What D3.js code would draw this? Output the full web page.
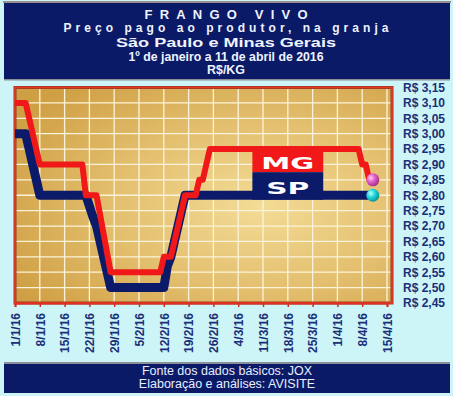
<!DOCTYPE html>
<html lang="pt">
<head>
<meta charset="UTF-8">
<title>Frango vivo</title>
<script src="https://d3js.org/d3.v7.min.js"></script>
<style>
  body { margin: 0; background: #fff; }
  svg { display: block; font-family: "Liberation Sans", Arial, sans-serif; }
</style>
</head>
<body>
<script>
// price per kg
var mgDates  = ["2016-01-01","2016-01-04","2016-01-05","2016-01-06","2016-01-07","2016-01-08","2016-01-20","2016-01-21","2016-01-24","2016-01-28","2016-02-11","2016-02-12","2016-02-14","2016-02-18","2016-02-21","2016-02-22","2016-02-23","2016-02-25","2016-04-07","2016-04-08","2016-04-09","2016-04-10","2016-04-11"];
var mgValues = [3.10, 3.10, 3.05, 3.00, 2.95, 2.90, 2.90, 2.80, 2.80, 2.55, 2.55, 2.60, 2.60, 2.80, 2.80, 2.85, 2.85, 2.95, 2.95, 2.90, 2.90, 2.85, 2.85];

var spDates  = ["2016-01-01","2016-01-04","2016-01-05","2016-01-06","2016-01-07","2016-01-08","2016-01-21","2016-01-23","2016-01-24","2016-01-28","2016-02-12","2016-02-13","2016-02-14","2016-02-18","2016-04-11"];
var spValues = [3.00, 3.00, 2.95, 2.90, 2.85, 2.80, 2.80, 2.73, 2.70, 2.50, 2.50, 2.57, 2.60, 2.80, 2.80];

var xTicks = ["2016-01-01","2016-01-08","2016-01-15","2016-01-22","2016-01-29","2016-02-05","2016-02-12","2016-02-19","2016-02-26","2016-03-04","2016-03-11","2016-03-18","2016-03-25","2016-04-01","2016-04-08","2016-04-15"];
var yTicks = [2.45, 2.50, 2.55, 2.60, 2.65, 2.70, 2.75, 2.80, 2.85, 2.90, 2.95, 3.00, 3.05, 3.10, 3.15];

var W = 455, H = 399;
var parse = d3.timeParse("%Y-%m-%d");
var fmtX = function(d){ return d.getDate() + "/" + (d.getMonth()+1) + "/16"; };
var fmtY = function(v){ return "R$ " + v.toFixed(2).replace(".", ","); };

var mg = mgDates.map(function(d, i){ return {date: parse(d), v: mgValues[i]}; });
var sp = spDates.map(function(d, i){ return {date: parse(d), v: spValues[i]}; });

var x = d3.scaleTime().domain([parse(xTicks[0]), parse(xTicks[xTicks.length-1])]).range([15, 387]);
var y = d3.scaleLinear().domain([2.45, 3.15]).range([303, 87.5]);
var plotL = 15, plotR = 392, plotT = 87.5, plotB = 303;

var svg = d3.select("body").append("svg").attr("width", W).attr("height", H);
var defs = svg.append("defs");

var bg = defs.append("radialGradient").attr("id", "gold").attr("cx", "65%").attr("cy", "55%").attr("r", "75%");
bg.append("stop").attr("offset", "0%").attr("stop-color", "#f3dc96");
bg.append("stop").attr("offset", "50%").attr("stop-color", "#e4c070");
bg.append("stop").attr("offset", "100%").attr("stop-color", "#cf9f44");

var pink = defs.append("radialGradient").attr("id", "pink").attr("cx", "35%").attr("cy", "35%").attr("r", "70%");
pink.append("stop").attr("offset", "0%").attr("stop-color", "#ffd0f0");
pink.append("stop").attr("offset", "45%").attr("stop-color", "#e060c8");
pink.append("stop").attr("offset", "100%").attr("stop-color", "#a02a88");

var teal = defs.append("radialGradient").attr("id", "teal").attr("cx", "35%").attr("cy", "35%").attr("r", "70%");
teal.append("stop").attr("offset", "0%").attr("stop-color", "#c0ffff");
teal.append("stop").attr("offset", "45%").attr("stop-color", "#20d8d8");
teal.append("stop").attr("offset", "100%").attr("stop-color", "#0a9090");

// background panels
svg.append("rect").attr("x", 0).attr("y", 0).attr("width", 453).attr("height", 396).attr("fill", "#cdf5f8");
svg.append("rect").attr("x", 3).attr("y", 1).attr("width", 448).attr("height", 2).attr("fill", "#9a8f8a");
svg.append("rect").attr("x", 4).attr("y", 3).attr("width", 446).attr("height", 76).attr("fill", "#0b1a66");
svg.append("rect").attr("x", 4).attr("y", 79).attr("width", 446).attr("height", 1.5).attr("fill", "#8a8f9a");
svg.append("rect").attr("x", 4).attr("y", 362).attr("width", 446).attr("height", 2).attr("fill", "#8a8f9a");
svg.append("rect").attr("x", 4).attr("y", 364).attr("width", 446).attr("height", 29).attr("fill", "#0b1a66");

// header
var head = [
  {t: "FRANGO VIVO", y: 19, s: 13, len: 163, adj: "spacing"},
  {t: "Preço pago ao produtor, na granja", y: 32, s: 12, len: 325, adj: "spacing"},
  {t: "São Paulo e Minas Gerais", y: 47, s: 13.5, len: 220, adj: "spacingAndGlyphs"},
  {t: "1º de janeiro a 11 de abril de 2016", y: 60.5, s: 12, len: 195, adj: "spacingAndGlyphs"},
  {t: "R$/KG", y: 74, s: 12, len: 38, adj: "spacingAndGlyphs"}
];
svg.selectAll("text.head").data(head).enter().append("text")
  .attr("class", "head")
  .attr("x", 226).attr("y", function(d){ return d.y; })
  .attr("text-anchor", "middle")
  .attr("font-size", function(d){ return d.s; })
  .attr("font-weight", "bold")
  .attr("fill", "#eef3ff")
  .attr("textLength", function(d){ return d.len; })
  .attr("lengthAdjust", function(d){ return d.adj; })
  .text(function(d){ return d.t; });

// footer
svg.selectAll("text.foot").data(["Fonte dos dados básicos: JOX", "Elaboração e análises: AVISITE"]).enter().append("text")
  .attr("class", "foot")
  .attr("x", 227).attr("y", function(d, i){ return 375 + i*13; })
  .attr("text-anchor", "middle")
  .attr("font-size", 12.5)
  .attr("fill", "#e8eeff")
  .text(function(d){ return d; });

// plot area
svg.append("rect").attr("x", plotL).attr("y", plotT).attr("width", plotR - plotL).attr("height", plotB - plotT).attr("fill", "url(#gold)");

svg.append("g").selectAll("line").data(yTicks.slice(1, -1)).enter().append("line")
  .attr("x1", plotL).attr("x2", plotR)
  .attr("y1", function(d){ return y(d); }).attr("y2", function(d){ return y(d); })
  .attr("stroke", "#fbf4da").attr("stroke-width", 1.3);

svg.append("g").selectAll("line").data(xTicks.slice(1)).enter().append("line")
  .attr("x1", function(d){ return x(parse(d)); }).attr("x2", function(d){ return x(parse(d)); })
  .attr("y1", plotT).attr("y2", plotB)
  .attr("stroke", "#fbf4da").attr("stroke-width", 1.3);

svg.append("rect").attr("x", plotL).attr("y", plotT).attr("width", plotR - plotL).attr("height", plotB - plotT)
  .attr("fill", "none").attr("stroke", "#9a3a2a").attr("stroke-width", 3);
svg.append("rect").attr("x", plotL).attr("y", plotT).attr("width", plotR - plotL).attr("height", plotB - plotT)
  .attr("fill", "none").attr("stroke", "#e83a20").attr("stroke-width", 1.5);

// x axis
var xAxis = svg.append("g").attr("transform", "translate(0," + plotB + ")")
  .call(d3.axisBottom(x).tickValues(xTicks.map(parse)).tickFormat(fmtX).tickSize(4).tickPadding(6));
xAxis.select(".domain").attr("stroke", "#e03020").attr("stroke-width", 2);
xAxis.selectAll(".tick line").attr("stroke", "#d03020").attr("stroke-width", 1.5);
xAxis.selectAll(".tick text")
  .attr("transform", "rotate(-90)")
  .attr("x", -10).attr("y", 0).attr("dy", "0.35em")
  .attr("text-anchor", "end")
  .attr("font-size", 12).attr("font-weight", "bold")
  .attr("font-family", "Liberation Sans, Arial, sans-serif")
  .attr("fill", "#1a2f78");

// y axis on the right, labels only
var yAxis = svg.append("g").attr("transform", "translate(" + 403 + ",0)")
  .call(d3.axisRight(y).tickValues(yTicks).tickFormat(fmtY).tickSize(0).tickPadding(0));
yAxis.select(".domain").remove();
yAxis.selectAll(".tick text")
  .attr("font-size", 12).attr("font-weight", "bold")
  .attr("font-family", "Liberation Sans, Arial, sans-serif")
  .attr("fill", "#1a2f78");

// lines
var line = d3.line().x(function(d){ return x(d.date); }).y(function(d){ return y(d.v); });

svg.append("path").datum(sp).attr("d", line)
  .attr("fill", "none").attr("stroke", "#0c1a6a").attr("stroke-width", 9)
  .attr("stroke-linejoin", "round");
svg.append("path").datum(mg).attr("d", line)
  .attr("fill", "none").attr("stroke", "#f01818").attr("stroke-width", 6)
  .attr("stroke-linejoin", "round");

// series labels
var labels = [{t: "MG", len: 53}, {t: "SP", len: 43}];
var lx0 = x(parse("2016-03-08")), lx1 = x(parse("2016-03-28"));
var mid = (y(2.95) + y(2.80)) / 2;
svg.append("rect").attr("x", lx0).attr("y", y(2.95) - 2).attr("width", lx1 - lx0).attr("height", mid - y(2.95) + 2).attr("fill", "#f01818");
svg.append("rect").attr("x", lx0).attr("y", mid).attr("width", lx1 - lx0).attr("height", y(2.80) + 4.5 - mid).attr("fill", "#0c1a6a");
svg.selectAll("text.lab").data(labels).enter().append("text")
  .attr("class", "lab")
  .attr("x", (lx0 + lx1) / 2)
  .attr("y", function(d, i){ return i === 0 ? mid - 3 : y(2.80) - 1; })
  .attr("text-anchor", "middle")
  .attr("font-size", 16).attr("font-weight", "900")
  .attr("font-family", "DejaVu Sans, Liberation Sans, sans-serif")
  .attr("fill", "#ffffff")
  .attr("textLength", function(d){ return d.len; })
  .attr("lengthAdjust", "spacingAndGlyphs")
  .text(function(d){ return d.t; });

// end markers
svg.append("circle").attr("cx", x(mg[mg.length-1].date)).attr("cy", y(mg[mg.length-1].v)).attr("r", 6.5).attr("fill", "url(#pink)");
svg.append("circle").attr("cx", x(sp[sp.length-1].date)).attr("cy", y(sp[sp.length-1].v)).attr("r", 6.5).attr("fill", "url(#teal)");
</script>
</body>
</html>
